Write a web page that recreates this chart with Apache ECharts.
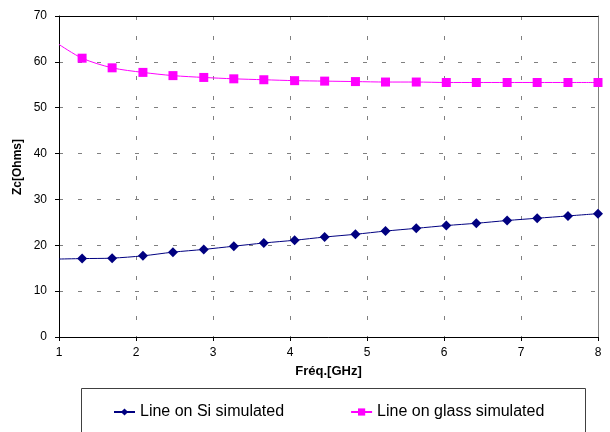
<!DOCTYPE html>
<html>
<head>
<meta charset="utf-8">
<title>Zc vs frequency</title>
<script src="https://cdn.jsdelivr.net/npm/echarts@6/dist/echarts.min.js"></script>
<style>
  html, body { margin: 0; padding: 0; background: #fff; }
  #chart { width: 610px; height: 432px; }
</style>
</head>
<body>
<div id="chart"></div>
<script>
// frequencies (GHz) - first point has no marker, the line just starts at the axis
var freqs = [1, 1.30, 1.69, 2.09, 2.48, 2.88, 3.27, 3.66, 4.06, 4.45, 4.85, 5.24, 5.64, 6.03, 6.42, 6.82, 7.21, 7.61, 8.00];
var siValues = [17.0, 17.1, 17.2, 17.7, 18.5, 19.1, 19.8, 20.5, 21.1, 21.8, 22.4, 23.1, 23.7, 24.3, 24.8, 25.4, 25.9, 26.4, 26.9];
var glassValues = [63.8, 60.8, 58.7, 57.7, 57.0, 56.6, 56.3, 56.1, 55.9, 55.8, 55.7, 55.6, 55.6, 55.5, 55.5, 55.5, 55.5, 55.5, 55.5];
var xTicks = [1, 8, 1];   // min, max, interval
var yTicks = [0, 70, 10];
var seriesNames = ['Line on Si simulated', 'Line on glass simulated'];

function toPoints(values) {
  return values.map(function (v, i) {
    var item = { value: [freqs[i], v] };
    if (i === 0) {
      item.symbol = 'none';
    }
    return item;
  });
}

var font = 'Liberation Sans, Arial, sans-serif';
var gridDash = {
  show: true,
  lineStyle: { color: '#808080', width: 1, type: [4, 15] }
};

var myChart = echarts.init(document.getElementById('chart'));
var option = {
  animation: false,
  textStyle: { fontFamily: font, color: '#000' },
  grid: { left: 59, right: 12, top: 16, bottom: 95 },
  legend: {
    left: 113,
    top: 404,
    padding: 0,
    itemWidth: 21,
    itemHeight: 9,
    itemGap: 66,
    textStyle: { fontSize: 16, fontFamily: font, color: '#000' },
    data: seriesNames
  },
  // frame round the legend, runs off the bottom of the picture
  graphic: [
    {
      type: 'rect',
      left: 79,
      top: 386,
      shape: { width: 504, height: 60 },
      style: { fill: 'none', stroke: '#404040', lineWidth: 1 },
      z: -1
    },
    {
      type: 'text',
      x: 12,
      y: 167,
      rotation: Math.PI / 2,
      style: {
        text: 'Zc[Ohms]',
        font: 'bold 12px ' + font,
        fill: '#000',
        align: 'center',
        verticalAlign: 'top'
      }
    }
  ],
  xAxis: [
    {
      type: 'value',
      min: xTicks[0],
      max: xTicks[1],
      interval: xTicks[2],
      name: 'Fréq.[GHz]',
      nameLocation: 'middle',
      nameGap: 28,
      nameTextStyle: { fontWeight: 'bold', fontSize: 13, color: '#000' },
      axisLine: { onZero: false, lineStyle: { color: '#000', width: 1 } },
      axisTick: { show: true, length: 4, lineStyle: { color: '#000' } },
      axisLabel: { fontSize: 12, color: '#000', margin: 10 },
      splitLine: {
        show: true,
        lineStyle: { color: '#808080', width: 1, type: [4, 16] }
      }
    },
    {
      // top edge of the plot
      type: 'value',
      position: 'top',
      min: xTicks[0],
      max: xTicks[1],
      axisLine: { show: true, onZero: false, lineStyle: { color: '#000' } },
      axisTick: { show: false },
      axisLabel: { show: false },
      splitLine: { show: false }
    }
  ],
  yAxis: [
    {
      type: 'value',
      min: yTicks[0],
      max: yTicks[1],
      interval: yTicks[2],
      axisLine: { show: true, onZero: false, lineStyle: { color: '#000', width: 1 } },
      axisTick: { show: true, length: 4, lineStyle: { color: '#000' } },
      axisLabel: { fontSize: 12, color: '#000', margin: 12 },
      splitLine: gridDash
    },
    {
      // right edge, grey
      type: 'value',
      position: 'right',
      min: yTicks[0],
      max: yTicks[1],
      axisLine: { show: true, onZero: false, lineStyle: { color: '#808080' } },
      axisTick: { show: false },
      axisLabel: { show: false },
      splitLine: { show: false }
    }
  ],
  series: [
    {
      name: seriesNames[0],
      type: 'line',
      smooth: 0.3,
      symbol: 'diamond',
      symbolSize: 10,
      color: '#000080',
      lineStyle: { color: '#000080', width: 1 },
      itemStyle: { color: '#000080' },
      data: toPoints(siValues)
    },
    {
      name: seriesNames[1],
      type: 'line',
      smooth: 0.3,
      symbol: 'rect',
      symbolSize: 9,
      color: '#ff00ff',
      lineStyle: { color: '#ff00ff', width: 1 },
      itemStyle: { color: '#ff00ff' },
      data: toPoints(glassValues)
    }
  ]
};
myChart.setOption(option);
window.addEventListener('resize', function () {
  myChart.resize();
});
</script>
</body>
</html>
